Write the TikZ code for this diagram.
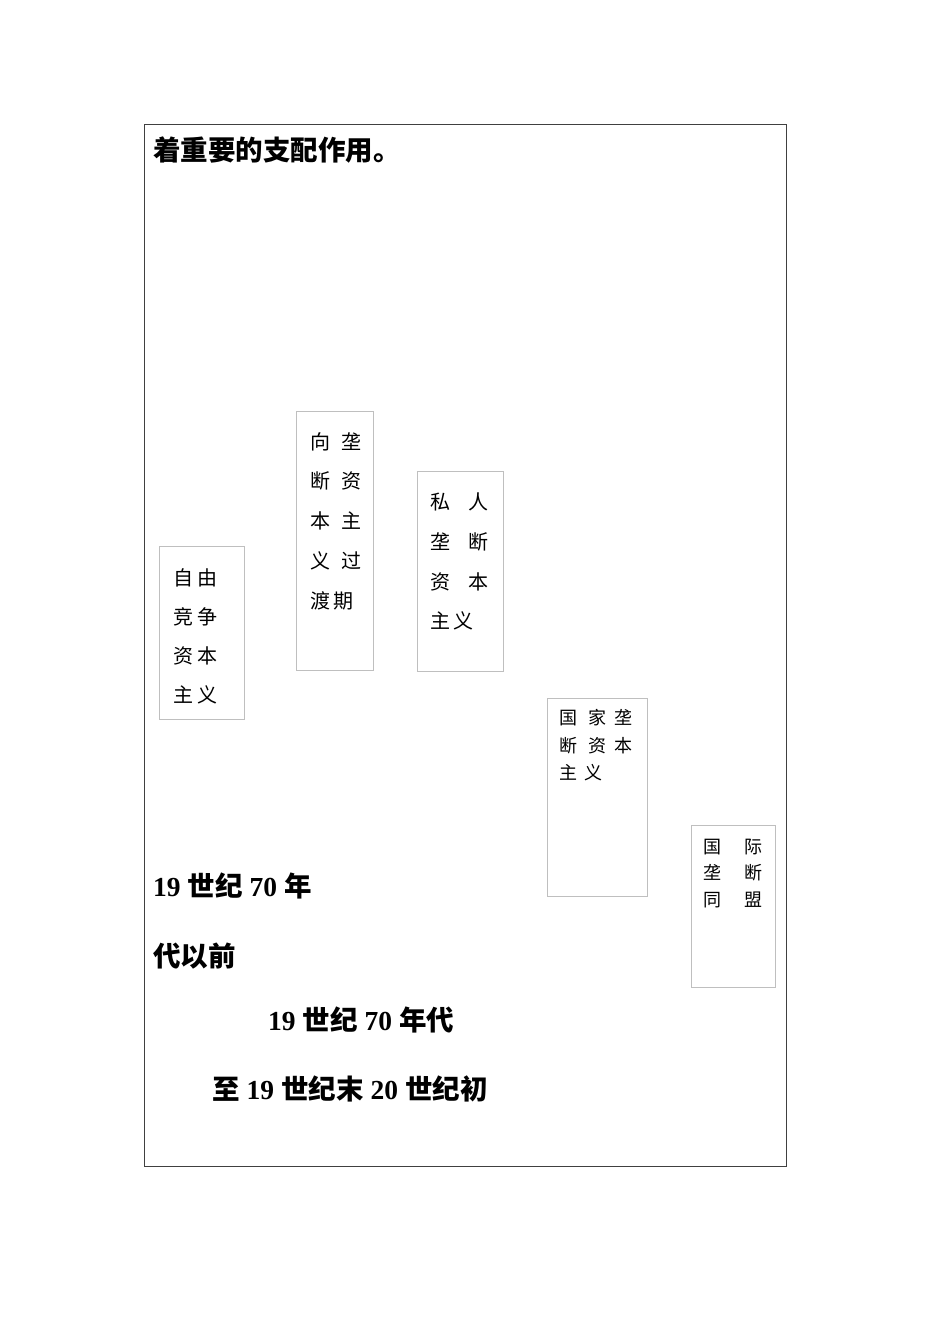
\documentclass[tikz,border=0pt]{standalone}
\usepackage{fontspec}
\newfontfamily\cjk{Noto Sans CJK SC}
\newfontfamily\numf{Liberation Serif}

\tikzset{
  tagbox/.style={draw=black!25, line width=0.8pt, inner sep=0pt},
  tagtxt/.style={anchor=west, inner sep=0pt, font=\cjk\fontsize{20}{24}\selectfont},
  smalltxt/.style={anchor=west, inner sep=0pt, font=\cjk\fontsize{18}{22}\selectfont},
  headtxt/.style={anchor=west, inner sep=0pt, font=\cjk\bfseries\fontsize{27.5}{32}\selectfont}
}

\begin{document}
\begin{tikzpicture}[x=1pt, y=-1pt]
    \useasboundingbox (0,0) rectangle (950,1344);

    \node[draw=black!75, line width=1pt, inner sep=0pt, minimum width=642, minimum height=1042] (frame) at (465,645) {};

    \node[headtxt] (head) at (153,150) {着重要的支配作用。};

    % stage boxes
    \node[tagbox, minimum width=85, minimum height=173] (b1) at (201.5,632.5) {};
    \node[tagbox, minimum width=77, minimum height=259] (b2) at (334.5,540.5) {};
    \node[tagbox, minimum width=86, minimum height=200] (b3) at (460,571) {};
    \node[tagbox, minimum width=100, minimum height=198] (b4) at (597,797) {};
    \node[tagbox, minimum width=84, minimum height=162] (b5) at (733,906) {};

    \node[tagtxt] (b1r1) at (173,578) {自\hspace{4pt}由};
    \node[tagtxt] (b1r2) at (173,617) {竞\hspace{4pt}争};
    \node[tagtxt] (b1r3) at (173,656) {资\hspace{4pt}本};
    \node[tagtxt] (b1r4) at (173,695) {主\hspace{4pt}义};

    \node[tagtxt] (b2r1) at (310,442) {向\hspace{11pt}垄};
    \node[tagtxt] (b2r2) at (310,481) {断\hspace{11pt}资};
    \node[tagtxt] (b2r3) at (310,521) {本\hspace{11pt}主};
    \node[tagtxt] (b2r4) at (310,561) {义\hspace{11pt}过};
    \node[tagtxt] (b2r5) at (310,601) {渡\hspace{3pt}期};

    \node[tagtxt] (b3r1) at (430,502) {私\hspace{18pt}人};
    \node[tagtxt] (b3r2) at (430,542) {垄\hspace{18pt}断};
    \node[tagtxt] (b3r3) at (430,582) {资\hspace{18pt}本};
    \node[tagtxt] (b3r4) at (430,621) {主\hspace{3pt}义};

    \node[smalltxt] (b4r1) at (559,718) {国\hspace{11pt}家\hspace{8pt}垄};
    \node[smalltxt] (b4r2) at (559,746) {断\hspace{11pt}资\hspace{8pt}本};
    \node[smalltxt] (b4r3) at (559,773) {主\hspace{7pt}义};

    \node[smalltxt] (b5r1) at (703,847) {国\hspace{23pt}际};
    \node[smalltxt] (b5r2) at (703,873) {垄\hspace{23pt}断};
    \node[smalltxt] (b5r3) at (703,900) {同\hspace{23pt}盟};

    % periods
    \node[headtxt] (p1a) at (153,886) {{\numf\bfseries 19}\hspace{7pt}世纪\hspace{7pt}{\numf\bfseries 70}\hspace{7pt}年};
    \node[headtxt] (p1b) at (153,956) {代以前};
    \node[headtxt] (p2a) at (268,1020) {{\numf\bfseries 19}\hspace{7pt}世纪\hspace{7pt}{\numf\bfseries 70}\hspace{7pt}年代};
    \node[headtxt] (p2b) at (212,1089) {至\hspace{7pt}{\numf\bfseries 19}\hspace{7pt}世纪末\hspace{7pt}{\numf\bfseries 20}\hspace{7pt}世纪初};
\end{tikzpicture}
\end{document}
